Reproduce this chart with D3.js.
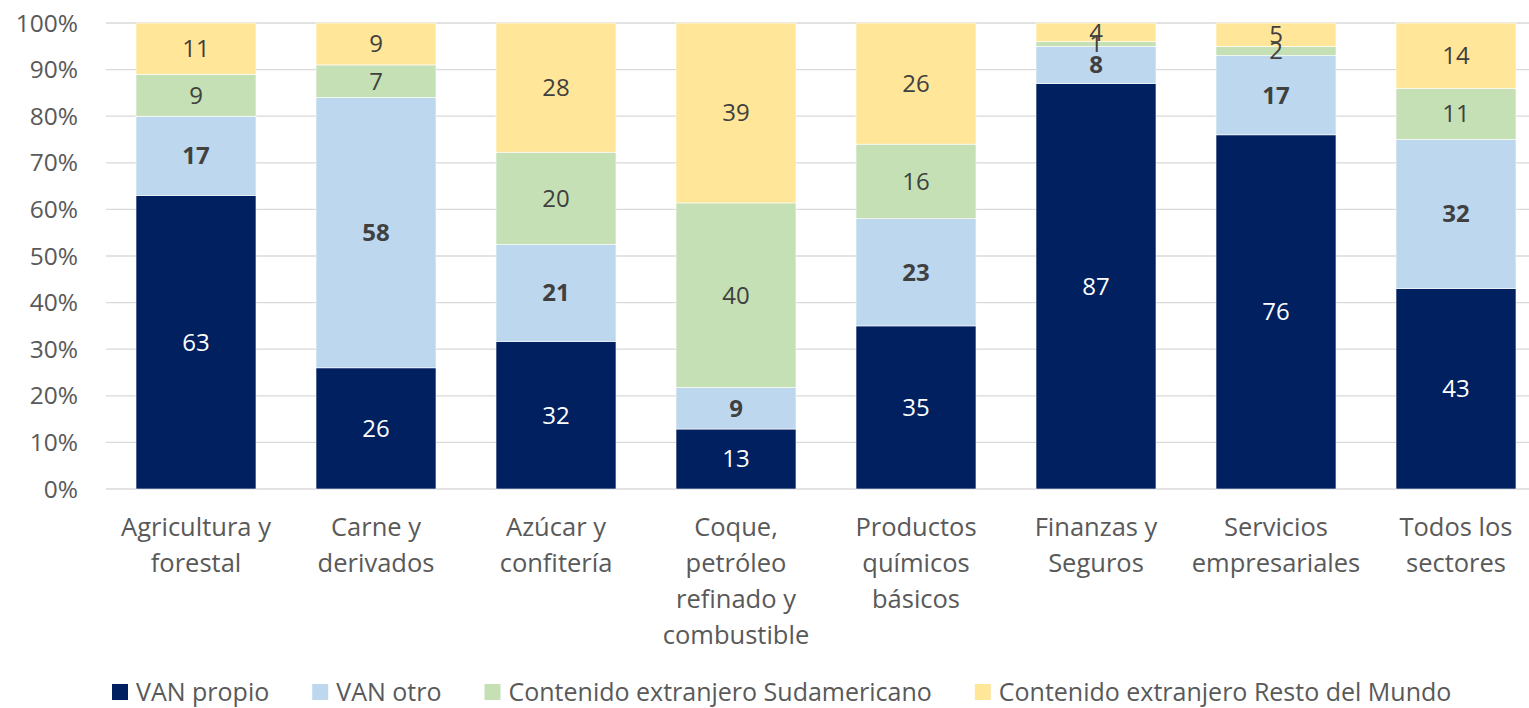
<!DOCTYPE html>
<html>
<head>
<meta charset="utf-8">
<script src="https://cdn.jsdelivr.net/npm/d3@7"></script>
<style>
  body { margin: 0; background: #fff; }
  text { font-family: "Open Sans", sans-serif; }
</style>
</head>
<body>
<div id="chart"></div>
<script>
// categories (lines separated by |) and series values
var categories = ["Agricultura y|forestal", "Carne y|derivados", "Azúcar y|confitería", "Coque,|petróleo|refinado y|combustible",
  "Productos|químicos|básicos", "Finanzas y|Seguros", "Servicios|empresariales", "Todos los|sectores"];
var seriesNames = ["VAN propio", "VAN otro", "Contenido extranjero Sudamericano", "Contenido extranjero Resto del Mundo"];
var vanPropio = [63, 26, 32, 13, 35, 87, 76, 43];
var vanOtro = [17, 58, 21, 9, 23, 8, 17, 32];
var extSud = [9, 7, 20, 40, 16, 1, 2, 11];
var extResto = [11, 9, 28, 39, 26, 4, 5, 14];
var yTicks = [0, 0.1, 0.2, 0.3, 0.4, 0.5, 0.6, 0.7, 0.8, 0.9, 1];

var colors = ["#002060", "#BDD7EE", "#C5E0B4", "#FFE699"];
var labelColors = ["#ffffff", "#404040", "#404040", "#404040"];
var labelWeights = ["normal", "bold", "normal", "normal"];

var W = 1529, H = 708;
var svg = d3.select("#chart").append("svg")
    .attr("width", W).attr("height", H);

var keys = ["p", "o", "s", "r"];
var data = categories.map(function (c, i) {
  return { cat: c, p: vanPropio[i], o: vanOtro[i], s: extSud[i], r: extResto[i] };
});
var stack = d3.stack().keys(keys).offset(d3.stackOffsetExpand);
var layers = stack(data);

var x = d3.scaleBand().domain(categories).range([106, 1546]).paddingInner(1 / 3).paddingOuter(1 / 6);
var y = d3.scaleLinear().domain([0, 1]).range([489, 23]);

// gridlines
svg.append("g").selectAll("line").data(yTicks).join("line")
    .attr("x1", 106).attr("x2", W)
    .attr("y1", function (d) { return y(d); }).attr("y2", function (d) { return y(d); })
    .attr("stroke", "#d9d9d9").attr("stroke-width", 1.3);

// y axis labels
svg.append("g").selectAll("text").data(yTicks).join("text")
    .attr("x", 78).attr("y", function (d) { return y(d); })
    .attr("dy", "0.35em")
    .attr("text-anchor", "end")
    .attr("fill", "#595959")
    .style("font-size", "24.5px")
    .text(d3.format(".0%"));

// bars
var g = svg.append("g").selectAll("g").data(layers).join("g")
    .attr("fill", function (d, i) { return colors[i]; });
g.selectAll("rect").data(function (d) { return d; }).join("rect")
    .attr("x", function (d) { return x(d.data.cat); })
    .attr("width", x.bandwidth())
    .attr("y", function (d) { return y(d[1]); })
    .attr("height", function (d) { return y(d[0]) - y(d[1]); })
    .attr("stroke", "#ffffff").attr("stroke-width", 0.6);

// value labels
layers.forEach(function (layer, i) {
  svg.append("g").selectAll("text").data(layer).join("text")
      .attr("x", function (d) { return x(d.data.cat) + x.bandwidth() / 2; })
      .attr("y", function (d) { return (y(d[0]) + y(d[1])) / 2; })
      .attr("dy", "0.35em")
      .attr("text-anchor", "middle")
      .attr("fill", labelColors[i])
      .attr("font-weight", labelWeights[i])
      .style("font-size", "24px")
      .text(function (d) { return d.data[keys[i]]; });
});

// category labels
var catG = svg.append("g").selectAll("text").data(categories).join("text")
    .attr("text-anchor", "middle")
    .attr("fill", "#595959")
    .style("font-size", "25.5px");
catG.selectAll("tspan").data(function (d) {
  return d.split("|").map(function (t) { return { t: t, c: d }; });
}).join("tspan")
    .attr("x", function (d) { return x(d.c) + x.bandwidth() / 2; })
    .attr("y", function (d, j) { return 536 + j * 36; })
    .text(function (d) { return d.t; });

// legend
var legend = svg.append("g");
var lx = 112;
seriesNames.forEach(function (name, i) {
  legend.append("rect")
      .attr("x", lx).attr("y", 684).attr("width", 16).attr("height", 16)
      .attr("fill", colors[i]);
  var t = legend.append("text")
      .attr("x", lx + 24).attr("y", 692).attr("dy", "0.35em")
      .attr("fill", "#595959")
      .style("font-size", "25px")
      .text(name);
  lx += 24 + t.node().getComputedTextLength() + 43;
});
</script>
</body>
</html>
